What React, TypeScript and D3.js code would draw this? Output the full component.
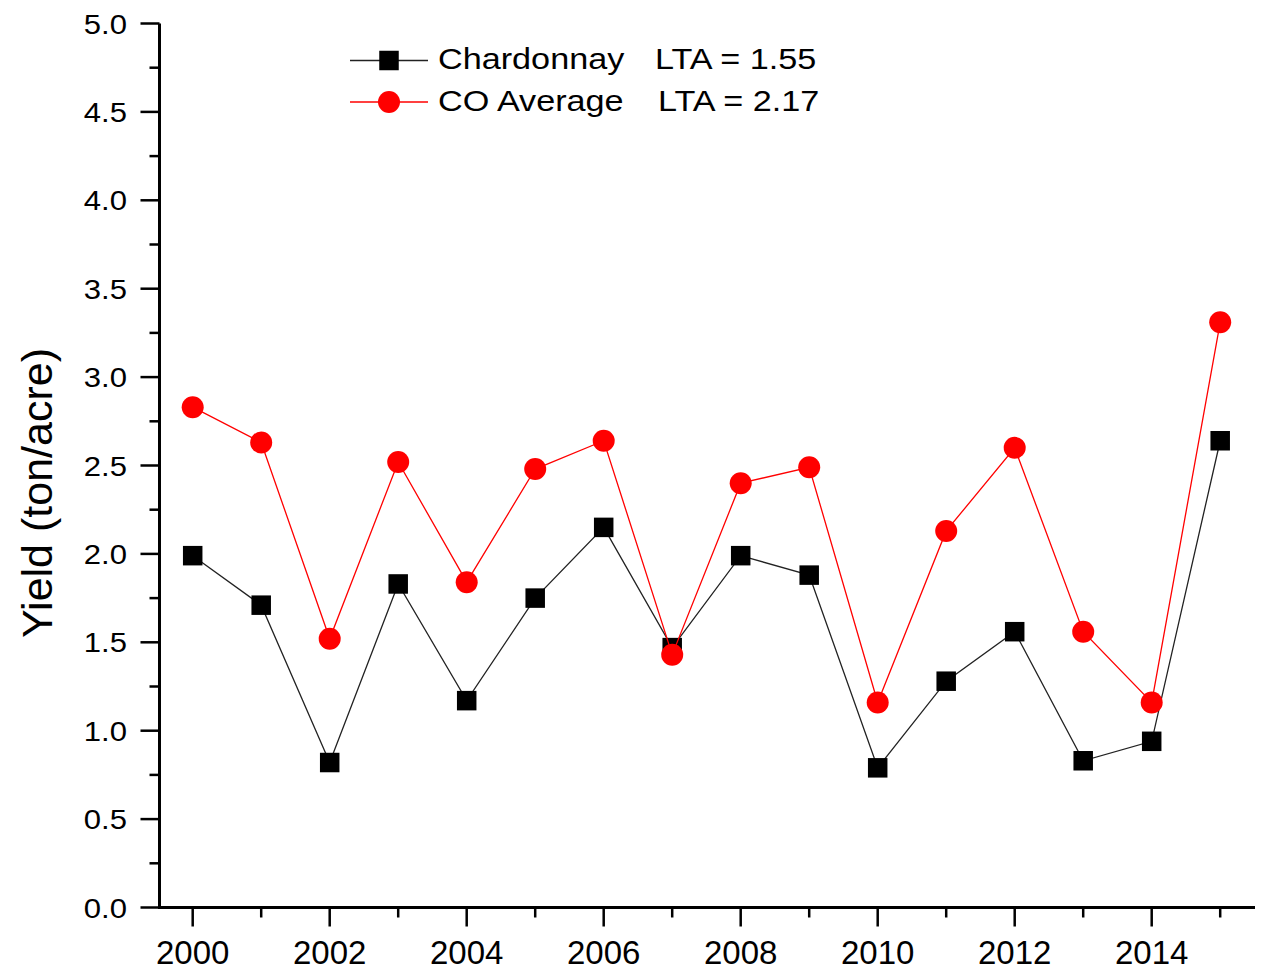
import React from "react";
import * as d3 from "d3";

const years = [2000, 2001, 2002, 2003, 2004, 2005, 2006, 2007, 2008, 2009, 2010, 2011, 2012, 2013, 2014, 2015];
const chardonnay = [1.99, 1.71, 0.82, 1.83, 1.17, 1.75, 2.15, 1.47, 1.99, 1.88, 0.79, 1.28, 1.56, 0.83, 0.94, 2.64];
const coAverage = [2.83, 2.63, 1.52, 2.52, 1.84, 2.48, 2.64, 1.43, 2.40, 2.49, 1.16, 2.13, 2.60, 1.56, 1.16, 3.31];
const yMajorTicks = [0, 0.5, 1, 1.5, 2, 2.5, 3, 3.5, 4, 4.5, 5];
const yMinorTicks = [0.25, 0.75, 1.25, 1.75, 2.25, 2.75, 3.25, 3.75, 4.25, 4.75];
const xMajorTicks = [2000, 2002, 2004, 2006, 2008, 2010, 2012, 2014];
const xMinorTicks = [2001, 2003, 2005, 2007, 2009, 2011, 2013, 2015];
const legendNames = ["Chardonnay", "CO Average"];
const legendLTA = ["LTA = 1.55", "LTA = 2.17"];
const yTitle = "Yield (ton/acre)";

export default function App() {
  const W = 1263, H = 971;
  const x = d3.scaleLinear().domain([2000, 2015]).range([192.7, 1220.2]);
  const y = d3.scaleLinear().domain([0, 5]).range([907.5, 23.5]);
  const axisX0 = 159.5, axisX1 = 1255;
  const line = d3.line<number>().x((_, i) => x(years[i])).y((d) => y(d));
  const font = "Arial, 'Liberation Sans', sans-serif";
  const sq = 19.5;
  const r = 11;
  return (
    <svg width={W} height={H} style={{ position: "absolute", left: 0, top: 0, background: "#fff" }}>
      <rect width={W} height={H} fill="#fff" />
      {/* axes */}
      <line x1={axisX0} x2={axisX0} y1={y(5)} y2={y(0) + 1.5} stroke="#000" strokeWidth={3} />
      <line x1={axisX0 - 1.5} x2={axisX1} y1={y(0)} y2={y(0)} stroke="#000" strokeWidth={3} />
      {yMajorTicks.map((t) => (
        <g key={"ym" + t}>
          <line x1={axisX0 - 19} x2={axisX0} y1={y(t)} y2={y(t)} stroke="#000" strokeWidth={2.5} />
          <text
            transform={`translate(127,${y(t) + 10}) scale(1.09,1)`}
            textAnchor="end"
            fontFamily={font}
            fontSize={28.5}
            fill="#000"
          >
            {t.toFixed(1)}
          </text>
        </g>
      ))}
      {yMinorTicks.map((t) => (
        <line key={"yn" + t} x1={axisX0 - 10} x2={axisX0} y1={y(t)} y2={y(t)} stroke="#000" strokeWidth={2.5} />
      ))}
      {xMajorTicks.map((t) => (
        <g key={"xm" + t}>
          <line x1={x(t)} x2={x(t)} y1={y(0)} y2={y(0) + 19} stroke="#000" strokeWidth={2.5} />
          <text x={x(t)} y={964} textAnchor="middle" fontFamily={font} fontSize={33} fill="#000">
            {t}
          </text>
        </g>
      ))}
      {xMinorTicks.map((t) => (
        <line key={"xn" + t} x1={x(t)} x2={x(t)} y1={y(0)} y2={y(0) + 10} stroke="#000" strokeWidth={2.5} />
      ))}
      <text
        transform={`translate(52,493) rotate(-90)`}
        textAnchor="middle"
        fontFamily={font}
        fontSize={43}
        fill="#000"
      >
        {yTitle}
      </text>
      {/* series */}
      <path d={line(chardonnay) || ""} fill="none" stroke="#222" strokeWidth={1.3} />
      {chardonnay.map((v, i) => (
        <rect key={"c" + i} x={x(years[i]) - sq / 2} y={y(v) - sq / 2} width={sq} height={sq} fill="#000" />
      ))}
      <path d={line(coAverage) || ""} fill="none" stroke="#ff0000" strokeWidth={1.3} />
      {coAverage.map((v, i) => (
        <circle key={"a" + i} cx={x(years[i])} cy={y(v)} r={r} fill="#ff0000" />
      ))}
      {/* legend */}
      {legendNames.map((name, i) => {
        const ly = 60.5 + i * 41.5;
        return (
          <g key={"lg" + i}>
            <line x1={350} x2={428} y1={ly} y2={ly} stroke={i === 0 ? "#222" : "#ff0000"} strokeWidth={1.3} />
            {i === 0 ? (
              <rect x={389 - sq / 2} y={ly - sq / 2} width={sq} height={sq} fill="#000" />
            ) : (
              <circle cx={389} cy={ly} r={r} fill="#ff0000" />
            )}
            <text
              transform={`translate(438,${ly + 8.5}) scale(1.14,1)`}
              fontFamily={font}
              fontSize={30}
              fill="#000"
            >
              {name}
            </text>
            <text
              transform={`translate(${i === 0 ? 655 : 658},${ly + 8.5}) scale(1.14,1)`}
              fontFamily={font}
              fontSize={30}
              fill="#000"
            >
              {legendLTA[i]}
            </text>
          </g>
        );
      })}
    </svg>
  );
}
